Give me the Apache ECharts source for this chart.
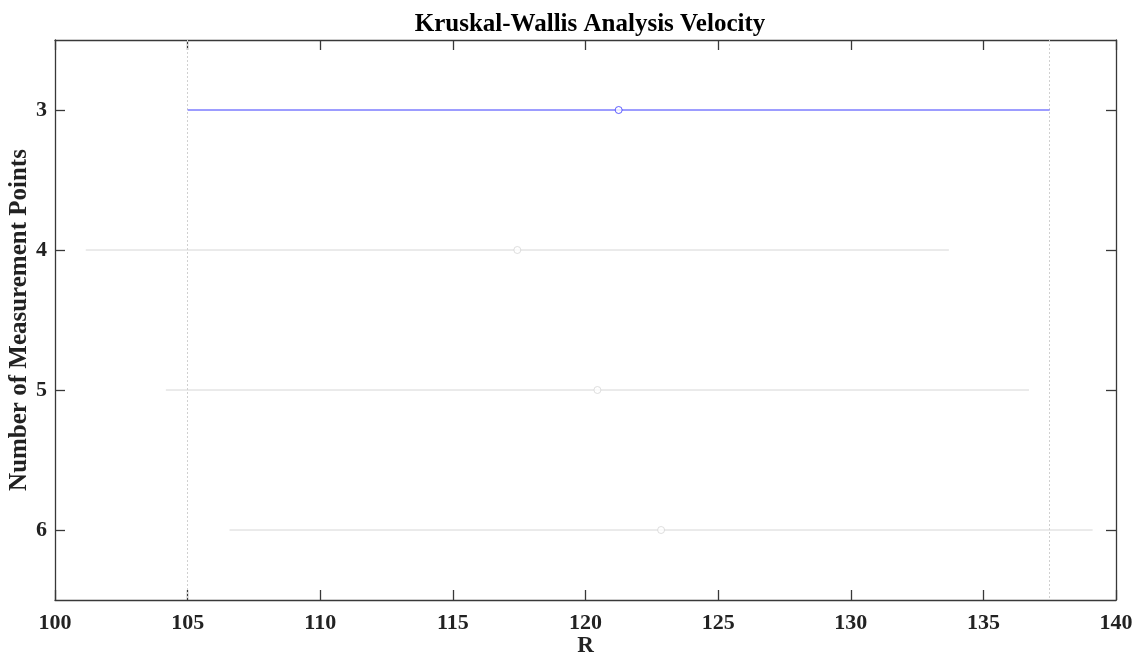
<!DOCTYPE html>
<html>
<head>
<meta charset="utf-8">
<script src="https://cdn.jsdelivr.net/npm/echarts@6/dist/echarts.min.js"></script>
<style>
  html, body { margin: 0; padding: 0; background: #fff; }
  #chart { width: 1142px; height: 661px; }
</style>
</head>
<body>
<div id="chart"></div>
<script>
// Group labels (number of measurement points) and their mean-rank intervals
const groups = ['3', '4', '5', '6'];
const meanRanks = [121.25, 117.43, 120.45, 122.85];
const lowerBounds = [105.0, 101.16, 104.18, 106.58];
const upperBounds = [137.5, 133.70, 136.72, 139.12];
const xTicks = [100, 105, 110, 115, 120, 125, 130, 135, 140];
const selectedIndex = 0;

const FONT = '"Liberation Serif", "Times New Roman", serif';
const AXIS_COLOR = '#383838';
const BLUE = '#3a3aff';
const GRAY = '#d6d6d6';

const chart = echarts.init(document.getElementById('chart'), null, { renderer: 'canvas' });

const series = [];
groups.forEach((g, i) => {
  const color = i === selectedIndex ? BLUE : GRAY;
  const s = {
    type: 'line',
    name: 'interval-' + g,
    data: [[lowerBounds[i], g], [upperBounds[i], g]],
    symbol: 'none',
    lineStyle: { color: color, width: 1 },
    silent: true,
    z: i === selectedIndex ? 5 : 3
  };
  if (i === selectedIndex) {
    // dotted reference lines at the selected group's interval edges
    s.markLine = {
      silent: true,
      symbol: ['none', 'none'],
      label: { show: false },
      lineStyle: { color: '#d0d0d0', type: [2, 2], width: 1 },
      data: [{ xAxis: lowerBounds[i] }, { xAxis: upperBounds[i] }]
    };
  }
  series.push(s);
  series.push({
    type: 'scatter',
    name: 'mean-' + g,
    data: [[meanRanks[i], g]],
    symbol: 'circle',
    symbolSize: 7,
    itemStyle: { color: '#fff', borderColor: color, borderWidth: 1 },
    silent: true,
    z: i === selectedIndex ? 6 : 4
  });
});

const xAxisBase = {
  type: 'value',
  min: xTicks[0],
  max: xTicks[xTicks.length - 1],
  interval: 5,
  axisLine: { show: true, onZero: false, lineStyle: { color: AXIS_COLOR, width: 1.3 } },
  axisTick: { show: true, inside: true, length: 10, lineStyle: { color: AXIS_COLOR, width: 1.3 } },
  splitLine: { show: false }
};

const yAxisBase = {
  type: 'category',
  data: groups,
  inverse: true,
  boundaryGap: true,
  axisLine: { show: true, onZero: false, lineStyle: { color: AXIS_COLOR, width: 1.3 } },
  axisTick: { show: true, inside: true, alignWithLabel: true, length: 10, lineStyle: { color: AXIS_COLOR, width: 1.3 } },
  splitLine: { show: false }
};

chart.setOption({
  animation: false,
  backgroundColor: '#fff',
  title: {
    text: 'Kruskal-Wallis Analysis Velocity',
    left: 585,
    textAlign: 'center',
    top: 7,
    textStyle: { fontFamily: FONT, fontWeight: 'bold', fontSize: 25, color: '#000' }
  },
  grid: { left: 55, right: 26, top: 40, bottom: 61, containLabel: false, outerBoundsMode: 'none' },
  xAxis: [
    Object.assign({}, xAxisBase, {
      position: 'bottom',
      name: 'R',
      nameLocation: 'middle',
      nameGap: 35,
      nameMoveOverlap: false,
      nameTextStyle: { fontFamily: FONT, fontWeight: 'bold', fontSize: 23, color: '#222' },
      axisLabel: { show: true, margin: 12, fontFamily: FONT, fontWeight: 'bold', fontSize: 22, color: '#222' }
    }),
    Object.assign({}, xAxisBase, {
      position: 'top',
      axisLabel: { show: false }
    })
  ],
  yAxis: [
    Object.assign({}, yAxisBase, {
      position: 'left',
      name: 'Number of Measurement Points',
      nameLocation: 'middle',
      nameGap: 23,
      nameRotate: 90,
      nameMoveOverlap: false,
      nameTextStyle: { fontFamily: FONT, fontWeight: 'bold', fontSize: 25, color: '#222' },
      axisLabel: { show: true, margin: 8, fontFamily: FONT, fontWeight: 'bold', fontSize: 22, color: '#222' }
    }),
    Object.assign({}, yAxisBase, {
      position: 'right',
      axisLabel: { show: false }
    })
  ],
  series: series
});
</script>
</body>
</html>
